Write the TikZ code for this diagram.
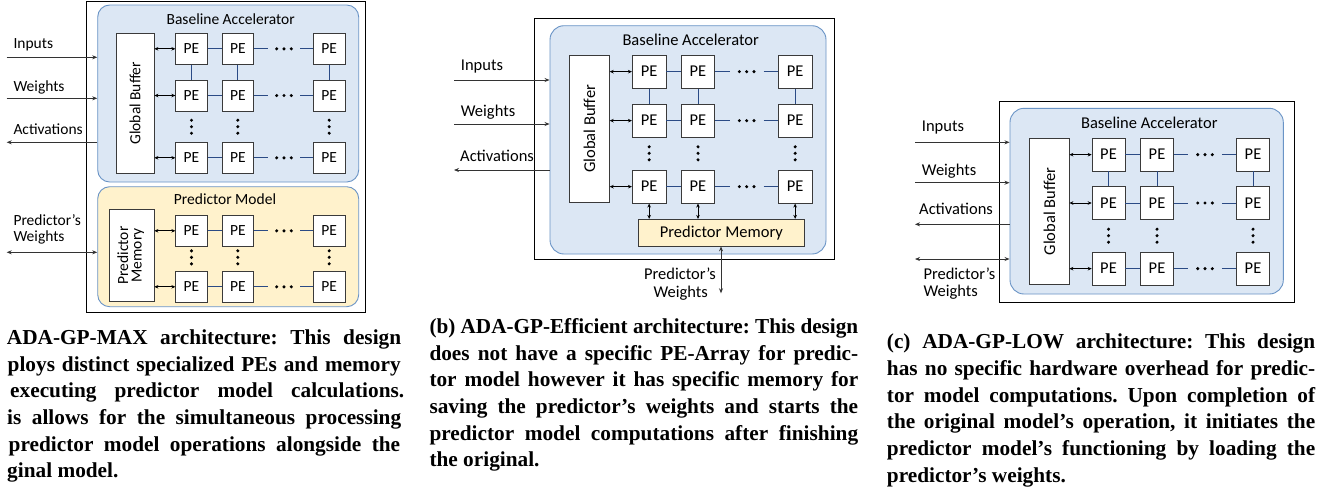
\documentclass[tikz,border=0pt]{standalone}
\usepackage{fontspec}
\usepackage{graphicx}
\setmainfont{Liberation Serif}
\newfontfamily\diafont{Carlito}
\usetikzlibrary{arrows.meta}
\definecolor{fillblue}{HTML}{DCE7F4}
\definecolor{boxblue}{HTML}{6A94C6}
\definecolor{fillyellow}{HTML}{FFF2CC}
\definecolor{navy}{HTML}{2B4B85}
\definecolor{pegray}{HTML}{3A3A3A}
\definecolor{extgray}{HTML}{333333}
\frenchspacing
\newcommand\jline[2]{%
  \setbox0=\hbox{#2}%
  \ifdim\wd0>#1\relax
    \pgfmathsetmacro\jratio{#1/\the\wd0}%
    \scalebox{\jratio}[1]{\box0}%
  \else
    \makebox[#1][s]{#2}%
  \fi}
\tikzset{
  dfont/.style={font=\diafont\fontsize{#1}{#1}\selectfont},
  outerbox/.style={draw=black, line width=0.9pt, inner sep=0},
  bluebox/.style={draw=boxblue, fill=fillblue, rounded corners=12pt, line width=0.9pt, inner sep=0},
  yellowbox/.style={draw=boxblue, fill=fillyellow, rounded corners=12pt, line width=0.9pt, inner sep=0},
  pe/.style={draw=pegray, fill=white, line width=0.8pt, inner sep=0, dfont=#1},
  pe/.default=16.5,
  memb/.style={draw=pegray, fill=fillyellow, line width=0.8pt, inner sep=0, dfont=16.5},
  lbl/.style={dfont=#1, inner sep=0, anchor=west},
  lbl/.default=16.5,
  ttl/.style={dfont=#1, inner sep=0},
  ttl/.default=16.5,
  ext/.style={draw=extgray, line width=0.8pt},
  gbarrow/.style={draw=black, line width=0.8pt, {Stealth[length=4pt,width=3.6pt]}-{Stealth[length=4pt,width=3.6pt]}},
  link/.style={draw=navy, line width=0.9pt},
  hdots/.style={minimum width=#1, minimum height=6, inner sep=0,
    path picture={\foreach \d in {-7.3,0,7.3}{\fill ([xshift=\d pt]path picture bounding box.center) circle (1.7pt);}}},
  vdots/.style={minimum width=6, minimum height=20, inner sep=0,
    path picture={\foreach \d in {-6.5,0,6.5}{\fill ([yshift=\d pt]path picture bounding box.center) circle (1.7pt);}}},
  captxt/.style={font=\bfseries\fontsize{21.3}{24}\selectfont, inner sep=0, anchor=base west},
  >={Stealth[length=5pt,width=4pt]}
}
\begin{document}
\begin{tikzpicture}[x=1pt,y=-1pt]
\useasboundingbox (0,0) rectangle (1344,491);
\clip (0,0) rectangle (1344,491);
\fill[white] (0,0) rectangle (1344,491);

%% ================= (a) =================
\node[outerbox, minimum width=279, minimum height=311] (aout) at (226.2,156.5) {};
\node[bluebox, minimum width=261, minimum height=177] (ablue) at (228.2,93.5) {};
\node[yellowbox, minimum width=261, minimum height=120] (ayel) at (228.2,246.7) {};
\node[ttl=15.5] (atitle) at (230.7,19.3) {Baseline Accelerator};
\node[ttl=15.5] (aptitle) at (225,199.3) {Predictor Model};
\node[pe=15.5, minimum width=37.7, minimum height=140] (agb) at (135.15,103.3) {\rotatebox{90}{Global Buffer}};
\node[pe=15.5, minimum width=44.3, minimum height=92.7, align=center] (apm) at (131.85,255.35) {\rotatebox{90}{\begin{tabular}{@{}c@{}}Predictor\\[-2pt]Memory\end{tabular}}};
\foreach \c/\x in {1/191.5,2/237.8,3/329.2}{
  \foreach \r/\y in {1/48.8,2/95.5,3/157.8}{
    \node[pe=15.5, minimum width=31.5, minimum height=31] (a-\r-\c) at (\x,\y) {PE};
  }
  \node[vdots] (av-\c) at (\x,126.7) {};
  \foreach \r/\y in {1/230.8,2/286.8}{
    \node[pe=15.5, minimum width=31.5, minimum height=31] (ap-\r-\c) at (\x,\y) {PE};
  }
  \node[vdots] (apv-\c) at (\x,257.3) {};
}
\foreach \r/\y in {1/48.8,2/95.5,3/157.8}{
  \node[hdots=32] (ah-\r) at (284,\y) {};
  \draw[link] (a-\r-1.east) -- (a-\r-2.west);
  \draw[link] (a-\r-2.east) -- (ah-\r.west);
  \draw[link] (ah-\r.east) -- (a-\r-3.west);
  \draw[gbarrow] (agb.east |- a-\r-1.west) -- (a-\r-1.west);
}
\foreach \r/\y in {1/230.8,2/286.8}{
  \node[hdots=32] (aph-\r) at (284,\y) {};
  \draw[link] (ap-\r-1.east) -- (ap-\r-2.west);
  \draw[link] (ap-\r-2.east) -- (aph-\r.west);
  \draw[link] (aph-\r.east) -- (ap-\r-3.west);
  \draw[gbarrow] (apm.east |- ap-\r-1.west) -- (ap-\r-1.west);
}
\foreach \c in {1,2,3}{ \draw[link] (a-1-\c.south) -- (a-2-\c.north); }
\node[lbl=15.5] (ainl) at (13.3,45) {Inputs};
\node[lbl=15.5] (awl) at (13.3,87.3) {Weights};
\node[lbl=15.5] (aal) at (13.3,129.3) {Activations};
\node[lbl=15.5] (apl1) at (13.3,220) {Predictor’s};
\node[lbl=15.5] (apl2) at (13.3,237.3) {Weights};
\coordinate (ain) at (6.7,57.3);
\coordinate (aw) at (6.7,98.3);
\coordinate (aa) at (6.7,142.3);
\coordinate (ap) at (6.7,252.3);
\draw[ext,->] (ain) -- (ain -| ablue.west);
\draw[ext,->] (aw) -- (aw -| ablue.west);
\draw[ext,->] (aa -| ablue.west) -- (aa);
\draw[ext,<->] (ap) -- (ap -| ayel.west);

%% ================= (b) =================
\node[outerbox, minimum width=300, minimum height=240.7] (bout) at (684.3,138.65) {};
\node[bluebox, rounded corners=14pt, minimum width=276, minimum height=228.3] (bblue) at (688,139.85) {};
\node[ttl] (btitle) at (690.7,40) {Baseline Accelerator};
\node[pe, minimum width=39.6, minimum height=147.7] (bgb) at (589.5,128.85) {\rotatebox{90}{Global Buffer}};
\node[memb, minimum width=166, minimum height=26.7] (bpm) at (721.3,232.65) {Predictor\hspace{4pt}Memory};
\foreach \c/\x in {1/649.15,2/698,3/795.15}{
  \foreach \r/\y in {1/71.65,2/120.65,3/186.65}{
    \node[pe, minimum width=33.6, minimum height=33] (b-\r-\c) at (\x,\y) {PE};
  }
  \node[vdots] (bv-\c) at (\x,153.3) {};
  \draw[link] (b-1-\c.south) -- (b-2-\c.north);
  \draw[gbarrow] (b-3-\c.south) -- (b-3-\c.south |- bpm.north);
}
\foreach \r/\y in {1/71.65,2/120.65,3/186.65}{
  \node[hdots=33.3] (bh-\r) at (746.65,\y) {};
  \draw[link] (b-\r-1.east) -- (b-\r-2.west);
  \draw[link] (b-\r-2.east) -- (bh-\r.west);
  \draw[link] (bh-\r.east) -- (b-\r-3.west);
  \draw[gbarrow] (bgb.east |- b-\r-1.west) -- (b-\r-1.west);
}
\node[lbl] (binl) at (460.7,66.7) {Inputs};
\node[lbl] (bwl) at (460.7,111.7) {Weights};
\node[lbl] (bal) at (460,155.7) {Activations};
\node[ttl] (bpl1) at (680,274) {Predictor’s};
\node[ttl] (bpl2) at (680.7,293.3) {Weights};
\coordinate (bin) at (454,80);
\coordinate (bw) at (454,124);
\coordinate (ba) at (454,170);
\coordinate (bp) at (721,293.3);
\draw[ext,->] (bin) -- (bin -| bblue.west);
\draw[ext,->] (bw) -- (bw -| bblue.west);
\draw[ext,->] (ba -| bblue.west) -- (ba);
\draw[ext,<->] (bp |- bpm.south) -- (bp);

%% ================= (c) =================
\node[outerbox, minimum width=295, minimum height=201] (cout) at (1146.8,202.2) {};
\node[bluebox, rounded corners=14pt, minimum width=273.3, minimum height=185.7] (cblue) at (1146.65,201.15) {};
\node[ttl] (ctitle) at (1149.3,123.3) {Baseline Accelerator};
\node[pe, minimum width=39.3, minimum height=146] (cgb) at (1049.35,211.3) {\rotatebox{90}{Global Buffer}};
\foreach \c/\x in {1/1108.5,2/1157,3/1253}{
  \foreach \r/\y in {1/154.65,2/203,3/268.65}{
    \node[pe, minimum width=32.8, minimum height=32.7] (c-\r-\c) at (\x,\y) {PE};
  }
  \node[vdots] (cv-\c) at (\x,235.7) {};
  \draw[link] (c-1-\c.south) -- (c-2-\c.north);
}
\foreach \r/\y in {1/154.65,2/203,3/268.65}{
  \node[hdots=33.4] (ch-\r) at (1205,\y) {};
  \draw[link] (c-\r-1.east) -- (c-\r-2.west);
  \draw[link] (c-\r-2.east) -- (ch-\r.west);
  \draw[link] (ch-\r.east) -- (c-\r-3.west);
  \draw[gbarrow] (cgb.east |- c-\r-1.west) -- (c-\r-1.west);
}
\node[lbl] (cinl) at (921.7,127.7) {Inputs};
\node[lbl] (cwl) at (921.7,170.7) {Weights};
\node[lbl] (cal) at (919,209.3) {Activations};
\node[lbl] (cpl1) at (923.3,274) {Predictor’s};
\node[lbl] (cpl2) at (923.3,292.3) {Weights};
\coordinate (cin) at (915,142.3);
\coordinate (cw) at (915,182.7);
\coordinate (ca) at (915,224.3);
\coordinate (cp) at (915,259);
\draw[ext,->] (cin) -- (cin -| cblue.west);
\draw[ext,->] (cw) -- (cw -| cblue.west);
\draw[ext,->] (ca -| cblue.west) -- (ca);
\draw[ext,<->] (cp) -- (cp -| cblue.west);

%% ================= captions =================
\node[captxt] (acap1) at (6.7,344.3) {\jline{394.3pt}{ADA-GP-MAX architecture: This design}};
\node[captxt] (acap2) at (7.5,371) {\jline{393pt}{ploys distinct specialized PEs and memory}};
\node[captxt] (acap3) at (10,397.7) {\jline{394pt}{executing predictor model calculations.}};
\node[captxt] (acap4) at (7,424.3) {\jline{394pt}{is allows for the simultaneous processing}};
\node[captxt] (acap5) at (8.5,451) {\jline{391.5pt}{predictor model operations alongside the}};
\node[captxt] (acap6) at (7,477.7) {ginal model.};

\node[captxt] (bcap1) at (429.3,333.3) {\jline{428.7pt}{(b) ADA-GP-Efficient architecture: This design}};
\node[captxt] (bcap2) at (429.3,360) {\jline{428.7pt}{does not have a specific PE-Array for predic-}};
\node[captxt] (bcap3) at (429.3,386.7) {\jline{428.7pt}{tor model however it has specific memory for}};
\node[captxt] (bcap4) at (429.3,413.3) {\jline{428.7pt}{saving the predictor’s weights and starts the}};
\node[captxt] (bcap5) at (429.3,440) {\jline{428.7pt}{predictor model computations after finishing}};
\node[captxt] (bcap6) at (429.3,466.7) {the original.};

\node[captxt] (ccap1) at (886.7,348.6) {\jline{428.3pt}{(c) ADA-GP-LOW architecture: This design}};
\node[captxt] (ccap2) at (886.7,375.3) {\jline{428.3pt}{has no specific hardware overhead for predic-}};
\node[captxt] (ccap3) at (886.7,402) {\jline{428.3pt}{tor model computations. Upon completion of}};
\node[captxt] (ccap4) at (886.7,428.7) {\jline{428.3pt}{the original model’s operation, it initiates the}};
\node[captxt] (ccap5) at (886.7,455.3) {\jline{428.3pt}{predictor model’s functioning by loading the}};
\node[captxt] (ccap6) at (886.7,482) {predictor’s weights.};
\end{tikzpicture}
\end{document}
